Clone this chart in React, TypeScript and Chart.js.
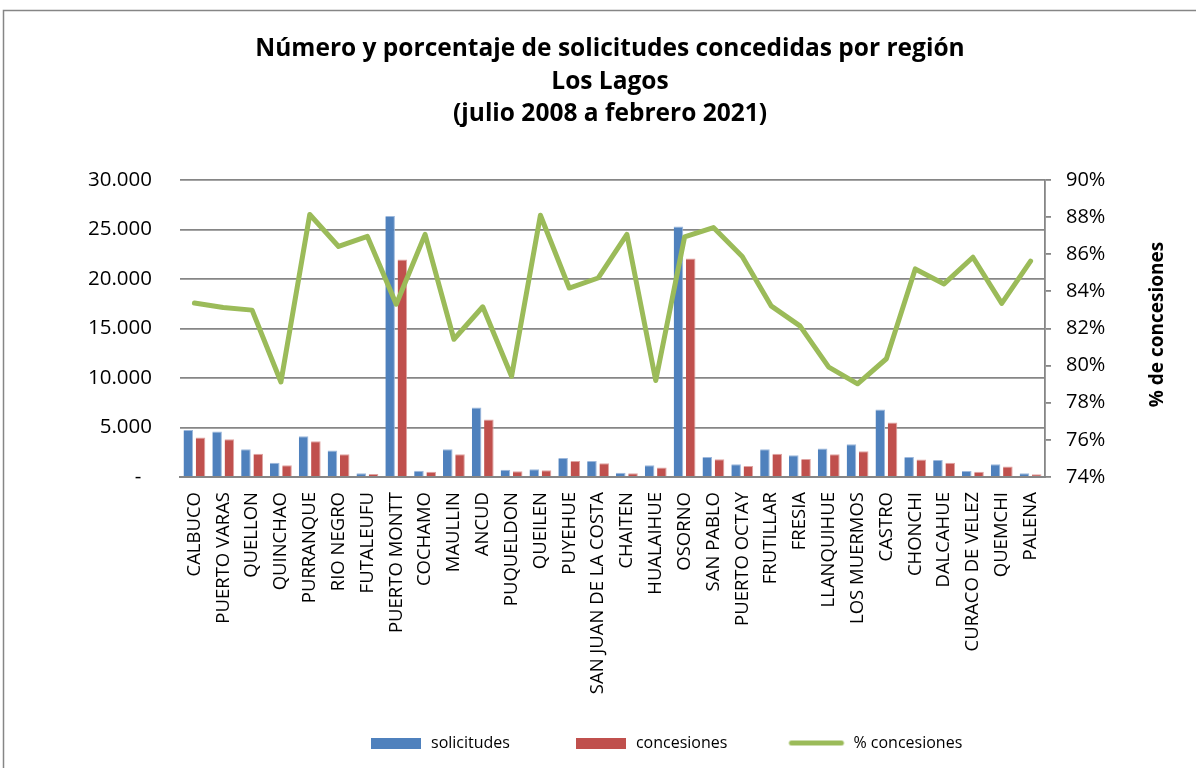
import React, { useEffect, useRef } from 'react';
import { Chart, registerables } from 'chart.js';

Chart.register(...registerables);

const titleLines = [
  'Número y porcentaje de solicitudes concedidas por región',
  'Los Lagos',
  '(julio 2008 a febrero 2021)',
];

const categories = [
  'CALBUCO', 'PUERTO VARAS', 'QUELLON', 'QUINCHAO', 'PURRANQUE', 'RIO NEGRO',
  'FUTALEUFU', 'PUERTO MONTT', 'COCHAMO', 'MAULLIN', 'ANCUD', 'PUQUELDON',
  'QUEILEN', 'PUYEHUE', 'SAN JUAN DE LA COSTA', 'CHAITEN', 'HUALAIHUE', 'OSORNO',
  'SAN PABLO', 'PUERTO OCTAY', 'FRUTILLAR', 'FRESIA', 'LLANQUIHUE', 'LOS MUERMOS',
  'CASTRO', 'CHONCHI', 'DALCAHUE', 'CURACO DE VELEZ', 'QUEMCHI', 'PALENA',
];

const solicitudes = [
  4760, 4590, 2800, 1450, 4120, 2670, 370, 26370, 640, 2800, 7030, 740, 780, 1930, 1620,
  440, 1180, 25300, 2030, 1280, 2800, 2200, 2870, 3310, 6820, 2030, 1720, 610, 1280, 370,
];

const concesiones = [
  3990, 3820, 2360, 1180, 3610, 2300, 300, 21960, 540, 2300, 5810, 570, 680, 1620, 1390,
  370, 950, 22060, 1790, 1110, 2360, 1820, 2300, 2600, 5510, 1760, 1450, 540, 1050, 270,
];

const porcentaje = [
  83.37, 83.13, 82.99, 79.12, 88.14, 86.42, 86.96, 83.31, 87.07, 81.42, 83.17, 79.43, 88.1,
  84.18, 84.72, 87.07, 79.2, 86.93, 87.44, 85.88, 83.22, 82.14, 79.92, 79.02, 80.37, 85.21,
  84.4, 85.84, 83.35, 85.63,
];

const seriesNames = ['solicitudes', 'concesiones', '% concesiones'];
const rightAxisTitle = '% de concesiones';

const BLUE = '#4F81BD';
const RED = '#C0504D';
const GREEN = '#9BBB59';
const GRID = '#868686';
const FONT = "'Open Sans', 'DejaVu Sans', sans-serif";

function fmtThousands(v: number): string {
  return String(Math.round(v)).replace(/\B(?=(\d{3})+(?!\d))/g, '.');
}

function makeSwatch(kind: 'rect' | 'line', color: string): HTMLCanvasElement {
  const c = document.createElement('canvas');
  c.width = 104;
  c.height = 11;
  const ctx = c.getContext('2d')!;
  if (kind === 'rect') {
    ctx.fillStyle = color;
    ctx.fillRect(52, 0, 50, 11);
  } else {
    ctx.strokeStyle = color;
    ctx.lineWidth = 5;
    ctx.lineCap = 'round';
    ctx.beginPath();
    ctx.moveTo(50, 5.5);
    ctx.lineTo(100, 5.5);
    ctx.stroke();
  }
  return c;
}

export default function App() {
  const ref = useRef<HTMLCanvasElement | null>(null);

  useEffect(() => {
    if (!ref.current) return;
    Chart.defaults.font.family = FONT;
    Chart.defaults.color = '#000';

    const swatches = [makeSwatch('rect', BLUE), makeSwatch('rect', RED), makeSwatch('line', GREEN)];

    const framePlugin = {
      id: 'frame',
      beforeDraw(chart: any) {
        const ctx = chart.ctx;
        ctx.save();
        ctx.fillStyle = '#fff';
        ctx.fillRect(0, 0, chart.width, chart.height);
        ctx.strokeStyle = GRID;
        ctx.lineWidth = 1.5;
        ctx.strokeRect(3.5, 10.5, 1400, 1000);
        ctx.restore();
      },
    };

    const rightTitlePlugin = {
      id: 'rightTitle',
      afterDraw(chart: any) {
        const ctx = chart.ctx;
        const area = chart.chartArea;
        ctx.save();
        ctx.translate(1158, (area.top + area.bottom) / 2 - 4);
        ctx.rotate(-Math.PI / 2);
        ctx.font = `bold 19px ${FONT}`;
        ctx.fillStyle = '#000';
        ctx.textAlign = 'center';
        ctx.textBaseline = 'middle';
        ctx.fillText(rightAxisTitle, 0, 0);
        ctx.restore();
      },
    };

    const legendShiftPlugin = {
      id: 'legendShift',
      afterLayout(chart: any) {
        if (chart.legend) {
          chart.legend.left = 305;
        }
      },
    };

    const chart = new Chart(ref.current, {
      type: 'bar',
      data: {
        labels: categories,
        datasets: [
          {
            type: 'bar',
            label: seriesNames[0],
            data: solicitudes,
            backgroundColor: BLUE,
            borderColor: '#9db8dc',
            borderWidth: { top: 1, right: 1, left: 0, bottom: 0 },
            yAxisID: 'y',
            order: 1,
            categoryPercentage: 0.85,
            barPercentage: 0.78,
          },
          {
            type: 'bar',
            label: seriesNames[1],
            data: concesiones,
            backgroundColor: RED,
            borderColor: '#dfa3a1',
            borderWidth: { top: 1, right: 1, left: 0, bottom: 0 },
            yAxisID: 'y',
            order: 2,
            categoryPercentage: 0.85,
            barPercentage: 0.78,
          },
          {
            type: 'line',
            label: seriesNames[2],
            data: porcentaje,
            borderColor: GREEN,
            backgroundColor: GREEN,
            borderWidth: 5,
            borderCapStyle: 'round',
            borderJoinStyle: 'round',
            pointRadius: 0,
            tension: 0,
            yAxisID: 'y1',
            order: 0,
          },
        ],
      } as any,
      options: {
        responsive: false,
        maintainAspectRatio: false,
        animation: false,
        layout: { padding: { left: 24, right: 0, top: 0, bottom: 7 } },
        plugins: {
          tooltip: { enabled: false },
          title: {
            display: true,
            text: titleLines,
            color: '#000',
            font: { family: FONT, size: 24.5, weight: 'bold', lineHeight: 32.5 / 24.5 },
            padding: { top: 33, bottom: 49.5 },
          },
          legend: {
            display: true,
            position: 'bottom',
            align: 'start',
            maxHeight: 48,
            labels: {
              usePointStyle: true,
              pointStyleWidth: 104,
              boxHeight: 11,
              padding: 14,
              color: '#000',
              font: { family: FONT, size: 16 },
              generateLabels: () =>
                seriesNames.map((name, i) => ({
                  text: name,
                  pointStyle: swatches[i],
                  fillStyle: [BLUE, RED, GREEN][i],
                  strokeStyle: [BLUE, RED, GREEN][i],
                  lineWidth: 0,
                  hidden: false,
                  datasetIndex: i,
                })),
            },
          },
        },
        scales: {
          x: {
            grid: { display: false, drawTicks: false },
            border: { display: true, color: GRID, width: 2 },
            ticks: {
              autoSkip: false,
              minRotation: 90,
              maxRotation: 90,
              padding: 15,
              color: '#000',
              font: { family: FONT, size: 18.5 },
            },
            afterFit(scale: any) {
              scale.height = 244;
            },
          },
          y: {
            position: 'left',
            min: 0,
            max: 30000,
            ticks: {
              stepSize: 5000,
              padding: 28,
              color: '#000',
              font: { family: FONT, size: 20.5 },
              callback: (v: any) => (Number(v) === 0 ? '-  ' : fmtThousands(Number(v))),
            },
            grid: { color: GRID, lineWidth: 1.8, drawTicks: false },
            border: { display: false },
            afterFit(scale: any) {
              scale.width = 156;
            },
          },
          y1: {
            position: 'right',
            min: 74,
            max: 90,
            ticks: {
              stepSize: 2,
              padding: 15,
              color: '#000',
              font: { family: FONT, size: 20 },
              callback: (v: any) => `${v}%`,
            },
            grid: {
              drawOnChartArea: false,
              drawTicks: true,
              tickLength: 6,
              color: GRID,
              lineWidth: 1.8,
            },
            border: { display: true, color: GRID, width: 1.8 },
            afterFit(scale: any) {
              scale.width = 151;
            },
          },
        },
      } as any,
      plugins: [framePlugin, rightTitlePlugin, legendShiftPlugin],
    });

    return () => chart.destroy();
  }, []);

  return (
    <div style={{ position: 'fixed', left: 0, top: 0, width: 1196, height: 768, background: '#fff' }}>
      <canvas ref={ref} width={1196} height={768} style={{ display: 'block' }} />
    </div>
  );
}
